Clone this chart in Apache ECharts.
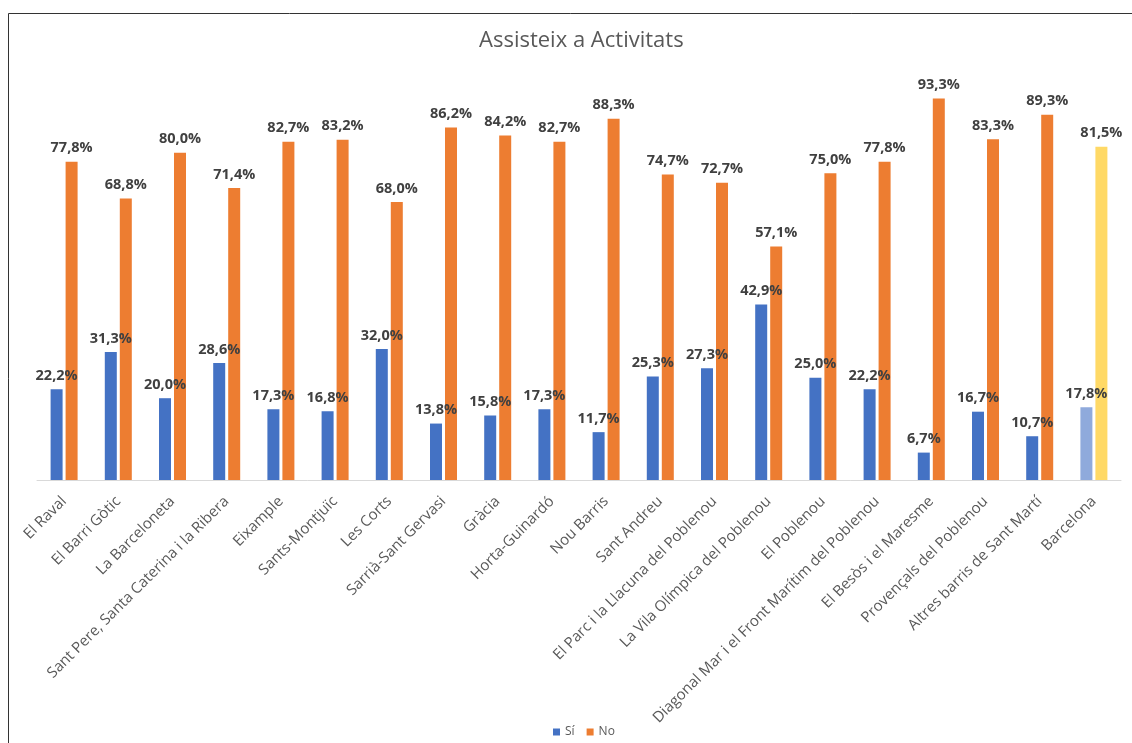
<!DOCTYPE html>
<html>
<head>
<meta charset="utf-8">
<script src="https://cdn.jsdelivr.net/npm/echarts@6/dist/echarts.min.js"></script>
<style>
html,body{margin:0;padding:0;background:#fff;}
#chart{width:1132px;height:743px;}
</style>
</head>
<body>
<div id="chart"></div>
<script>
const categories = ["El Raval","El Barri Gòtic","La Barceloneta","Sant Pere, Santa Caterina i la Ribera","Eixample","Sants-Montjuïc","Les Corts","Sarrià-Sant Gervasi","Gràcia","Horta-Guinardó","Nou Barris","Sant Andreu","El Parc i la Llacuna del Poblenou","La Vila Olímpica del Poblenou","El Poblenou","Diagonal Mar i el Front Marítim del Poblenou","El Besòs i el Maresme","Provençals del Poblenou","Altres barris de Sant Martí","Barcelona"];
const siValues = [22.2,31.3,20.0,28.6,17.3,16.8,32.0,13.8,15.8,17.3,11.7,25.3,27.3,42.9,25.0,22.2,6.7,16.7,10.7,17.8];
const noValues = [77.8,68.8,80.0,71.4,82.7,83.2,68.0,86.2,84.2,82.7,88.3,74.7,72.7,57.1,75.0,77.8,93.3,83.3,89.3,81.5];
const seriesNames = ["Sí","No"];
const title = "Assisteix a Activitats";

const FONT = '"Open Sans", "Noto Sans", sans-serif';
const last = categories.length - 1;
function mk(vals, base, special){
  return vals.map((v,i)=> i===last ? {value:v, itemStyle:{color:special}} : {value:v, itemStyle:{color:base}});
}
const fmt = p => p.value.toFixed(1).replace('.', ',') + '%';
const labelCfg = {show:true, position:'top', distance:6, formatter:fmt, fontFamily:FONT, fontSize:14.5, fontWeight:'bold', color:'#404040'};

const chart = echarts.init(document.getElementById('chart'), null, {renderer:'canvas'});
chart.setOption({
  animation:false,
  backgroundColor:'#fff',
  title:{text:title, left:474, top:25, textStyle:{fontFamily:FONT, fontSize:22, fontWeight:'normal', color:'#595959'}},
  legend:{bottom:0, left:548, itemWidth:7, itemHeight:7, itemGap:12, icon:'rect',
    textStyle:{fontFamily:FONT, fontSize:12, color:'#595959'}, data:seriesNames},
  grid:{left:37, right:11, top:71, bottom:263, containLabel:false},
  xAxis:{type:'category', data:categories,
    axisLine:{show:true, lineStyle:{color:'#D9D9D9', width:1}},
    axisTick:{show:false},
    axisLabel:{rotate:45, interval:0, margin:19, fontFamily:FONT, fontSize:15, color:'#595959'}},
  yAxis:{type:'value', min:0, max:100, show:false, splitLine:{show:false}},
  graphic:[{type:'rect', shape:{x:8.5, y:13.5, width:1300, height:900}, style:{fill:null, stroke:'#333', lineWidth:1}, silent:true}],
  series:[
    {name:seriesNames[0], type:'bar', data:mk(siValues,'#4472C4','#8FAADC'), itemStyle:{color:'#4472C4'}, barWidth:12, barGap:'25%', label:labelCfg},
    {name:seriesNames[1], type:'bar', data:mk(noValues,'#ED7D31','#FFD966'), itemStyle:{color:'#ED7D31'}, barWidth:12, label:labelCfg}
  ]
});
</script>
</body>
</html>
